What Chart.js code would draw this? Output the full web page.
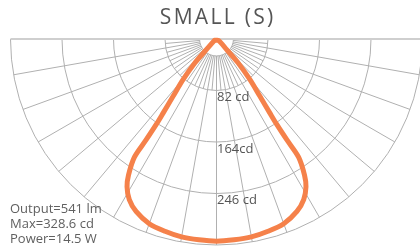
<!DOCTYPE html>
<html>
<head>
<meta charset="utf-8">
<script src="https://cdn.jsdelivr.net/npm/chart.js@4/dist/chart.umd.min.js"></script>
<style>
  html, body { margin: 0; padding: 0; background: #ffffff; }
  #wrap { position: relative; width: 420px; height: 248px; }
</style>
</head>
<body>
<div id="wrap"><canvas id="c" width="420" height="248"></canvas></div>
<script>
// ---- data ----
const titleText = "SMALL (S)";
// angle from nadir (degrees) and luminous intensity (cd), one half of the symmetric curve
const angleDeg    = [0,   5,   10,  15,  20,  25,  28.5, 31.2, 32.9, 34.8, 34.9, 35.2, 35.8, 37.2, 39.5, 42.2, 43.6, 55];
const intensityCd = [322, 321, 320, 317, 313, 303, 291,  275,  258,  229,  196,  166,  145,  114,  83,   51,   23,   4];
const ringTicks = [82, 164, 246, 328];
const ringLabels = ["82 cd", "164cd", "246 cd"];
const hubValue = 27;
const gridStepDeg = 10;
const fineStepDeg = 5;
const statLines = ["Output=541 lm", "Max=328.6 cd", "Power=14.5 W"];

// ---- build polar -> cartesian (cd units) ----
function toXY(deg, val, side) {
  const a = deg * Math.PI / 180;
  return { x: side * val * Math.sin(a), y: -val * Math.cos(a) };
}
const pts = [];
for (let i = angleDeg.length - 1; i >= 0; i--) pts.push(toXY(angleDeg[i], intensityCd[i], -1));
for (let i = 1; i < angleDeg.length; i++) pts.push(toXY(angleDeg[i], intensityCd[i], 1));
pts.push(pts[0]);

const maxVal = ringTicks[ringTicks.length - 1];

const polarGrid = {
  id: 'polarGrid',
  beforeDatasetsDraw(chart) {
    const ctx = chart.ctx, xs = chart.scales.x, ys = chart.scales.y;
    const cx = xs.getPixelForValue(0), cy = ys.getPixelForValue(0);
    const R = v => xs.getPixelForValue(v) - cx;
    ctx.save();
    ctx.strokeStyle = '#b0b0b0';
    ctx.lineWidth = 1;
    [hubValue].concat(ringTicks).forEach(v => {
      ctx.beginPath();
      ctx.arc(cx, cy, R(v), 0, Math.PI);
      ctx.stroke();
    });
    for (let d = -90 + fineStepDeg; d < 90; d += fineStepDeg) {
      const a = d * Math.PI / 180;
      const outer = (d % gridStepDeg === 0) ? maxVal : ringTicks[0];
      const r0 = R(hubValue), r1 = R(outer);
      ctx.beginPath();
      ctx.moveTo(cx + r0 * Math.sin(a), cy + r0 * Math.cos(a));
      ctx.lineTo(cx + r1 * Math.sin(a), cy + r1 * Math.cos(a));
      ctx.stroke();
    }
    ctx.strokeStyle = '#cfcfcf';
    ctx.lineWidth = 2;
    ctx.beginPath();
    ctx.moveTo(cx - R(maxVal), cy);
    ctx.lineTo(cx + R(maxVal), cy);
    ctx.stroke();
    ctx.restore();
  },
  afterDatasetsDraw(chart) {
    const ctx = chart.ctx, xs = chart.scales.x, ys = chart.scales.y;
    const cx = xs.getPixelForValue(0);
    ctx.save();
    ctx.fillStyle = '#555555';
    ctx.font = '13px "Open Sans", Lato, sans-serif';
    ctx.textAlign = 'left';
    ctx.textBaseline = 'alphabetic';
    ringLabels.forEach((t, i) => {
      const y = ys.getPixelForValue(-ringTicks[i]);
      ctx.fillText(t, cx + 0.5, y + 10.5);
    });
    ctx.fillStyle = '#606060';
    statLines.forEach((t, i) => ctx.fillText(t, 10, 213 + i * 15));
    ctx.fillStyle = '#555555';
    ctx.font = '21px "Open Sans", Lato, sans-serif';
    ctx.letterSpacing = '2.3px';
    ctx.textAlign = 'center';
    ctx.fillText(titleText, cx + 1.2, 24.3);
    ctx.restore();
  }
};

const PX_PER_CD = 206 / maxVal;
new Chart(document.getElementById('c'), {
  type: 'scatter',
  data: {
    datasets: [{
      data: pts,
      showLine: true,
      borderColor: '#F5814A',
      borderWidth: 5,
      tension: 0.3,
      borderJoinStyle: 'round',
      borderCapStyle: 'round',
      pointRadius: 0,
      fill: false,
      clip: false
    }]
  },
  options: {
    responsive: false,
    animation: false,
    devicePixelRatio: 1,
    layout: { padding: 0 },
    plugins: { legend: { display: false }, tooltip: { enabled: false }, title: { display: false } },
    scales: {
      x: { type: 'linear', display: false, min: -216.5 / PX_PER_CD, max: (420 - 216.5) / PX_PER_CD },
      y: { type: 'linear', display: false, min: -(248 - 39) / PX_PER_CD, max: 39 / PX_PER_CD }
    }
  },
  plugins: [polarGrid]
});
</script>
</body>
</html>
